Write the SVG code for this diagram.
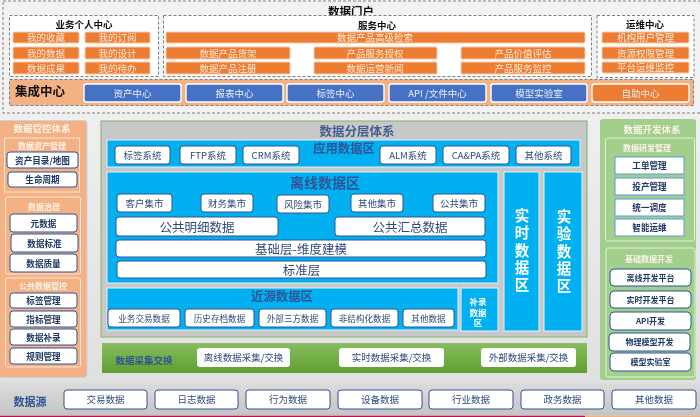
<svg xmlns="http://www.w3.org/2000/svg" width="700" height="417" viewBox="0 0 700 417">
<style>
text{font-family:"Noto Sans CJK SC","Liberation Sans",sans-serif;text-anchor:middle;dominant-baseline:central;transform:translateY(-.5px)}
.dash{fill:#fff;stroke:#7f7f7f;stroke-width:1;stroke-dasharray:3 2}
.or{fill:#ed7d31;stroke:#f8cbad;stroke-width:1}
.ort{fill:#fde9d9;font-size:9.5px}
.bl{fill:#4472c4;stroke:#fff;stroke-width:1.4}
.wt{fill:#e8eefa;font-size:9.5px}
.h{fill:#111;font-weight:700;font-size:9.5px}
.pt{fill:#fdf3ea;font-weight:700;font-size:9.5px}
.st{fill:#fdf3ea;font-weight:700;font-size:8px}
.sub{fill:none;stroke:#fbe5d6;stroke-width:1}
.subg{fill:none;stroke:#e2f0d9;stroke-width:1}
.nb{fill:#fff;stroke:#2f5597;stroke-width:1}
.nt{fill:#1f3864;font-weight:700;font-size:8.6px}
.lb{fill:#fff;stroke:#5b9bd5;stroke-width:1}
.zone{fill:#00b0f0;stroke:#dff3fb;stroke-width:1}
.zt{fill:#2f5597;font-weight:700;font-size:9.5px}
.bt{fill:#2f4a7c;font-size:9.5px}
.vt{fill:#fff;font-weight:700;font-size:14.500px;writing-mode:vertical-rl;letter-spacing:2.750px}
.vs{fill:#fff;font-weight:700;font-size:8.500px}
</style>
<defs>
<linearGradient id="g" x1="0" y1="0" x2="0" y2="1"><stop offset="0" stop-color="#88bd60"/><stop offset="1" stop-color="#5e9f30"/></linearGradient>
<linearGradient id="gb" x1="0" y1="0" x2="0" y2="1"><stop offset="0" stop-color="#dcdcdc"/><stop offset="1" stop-color="#c4c4c4"/></linearGradient>
<linearGradient id="bg" x1="0" y1="0" x2="0" y2="1"><stop offset="0" stop-color="#f6f6f6"/><stop offset="1" stop-color="#dedede"/></linearGradient>
<filter id="soft" x="0" y="0" width="1" height="1"><feGaussianBlur stdDeviation="0.3"/></filter>
</defs>
<g filter="url(#soft)">
<rect width="700" height="417" fill="url(#bg)"/>
<rect x="3" y="1" width="710" height="112" fill="#f2f2f2" stroke="#7f7f7f" stroke-dasharray="3 2"/>
<rect x="0" y="415.500" width="585" height="1.500" fill="#c00f50"/>
<rect x="585" y="415.500" width="115" height="1.500" fill="#f4b183"/>
<text x="351" y="11" class="h" style="font-size:11.500px">数据门户</text>

<g id="personal-center">
<rect class="dash" x="9.500" y="15.500" width="149" height="61"/>
<text x="84" y="24.500" class="h">业务个人中心</text>
<rect class="or" x="13" y="32" width="66" height="11" rx="1.500"/><text x="46" y="37.500" class="ort">我的收藏</text>
<rect class="or" x="85" y="32" width="65" height="11" rx="1.500"/><text x="117.500" y="37.500" class="ort">我的订阅</text>
<rect class="or" x="13" y="47" width="66" height="12" rx="1.500"/><text x="46" y="53" class="ort">我的数据</text>
<rect class="or" x="85" y="47" width="65" height="12" rx="1.500"/><text x="117.500" y="53" class="ort">我的设计</text>
<rect class="or" x="13" y="62" width="66" height="12" rx="1.500"/><text x="46" y="68" class="ort">数据成果</text>
<rect class="or" x="85" y="62" width="65" height="12" rx="1.500"/><text x="117.500" y="68" class="ort">我的待办</text>
</g>

<g id="service-center">
<rect class="dash" x="163.500" y="15.500" width="428" height="61"/>
<text x="377" y="25" class="h">服务中心</text>
<rect class="or" x="166" y="32" width="419" height="11" rx="1.500"/><text x="375" y="37.500" class="ort">数据产品高级检索</text>
<rect class="or" x="166" y="47" width="124" height="12" rx="1.500"/><text x="228" y="53" class="ort">数据产品货架</text>
<rect class="or" x="314" y="47" width="123" height="12" rx="1.500"/><text x="375" y="53" class="ort">产品服务授权</text>
<rect class="or" x="461" y="47" width="124" height="12" rx="1.500"/><text x="523" y="53" class="ort">产品价值评估</text>
<rect class="or" x="166" y="62" width="124" height="12" rx="1.500"/><text x="228" y="68" class="ort">数据产品注册</text>
<rect class="or" x="314" y="62" width="123" height="12" rx="1.500"/><text x="375" y="68" class="ort">数据运营新闻</text>
<rect class="or" x="461" y="62" width="124" height="12" rx="1.500"/><text x="523" y="68" class="ort">产品服务监控</text>
</g>

<g id="ops-center">
<rect class="dash" x="597" y="15.500" width="97" height="62"/>
<text x="645" y="24.500" class="h">运维中心</text>
<rect class="or" x="602" y="32" width="87" height="11" rx="1.500"/><text x="645.500" y="37.500" class="ort">机构用户管理</text>
<rect class="or" x="602" y="47" width="87" height="12" rx="1.500"/><text x="645.500" y="53" class="ort">资源权限管理</text>
<rect class="or" x="602" y="62" width="87" height="11" rx="1.500"/><text x="645.500" y="67.500" class="ort">平台运维监控</text>
</g>

<g id="integration-center">
<rect x="9.500" y="79.500" width="684" height="26" fill="#f4b183" stroke="#7f7f7f" stroke-dasharray="3 2"/>
<text x="40" y="91" class="h" style="font-size:12.500px">集成中心</text>
<rect class="bl" x="84" y="84" width="97" height="18" rx="2.500"/><text x="132.500" y="93" class="wt">资产中心</text>
<rect class="bl" x="186" y="84" width="97" height="18" rx="2.500"/><text x="234.500" y="93" class="wt">报表中心</text>
<rect class="bl" x="287" y="84" width="97" height="18" rx="2.500"/><text x="335.500" y="93" class="wt">标签中心</text>
<rect class="bl" x="389" y="84" width="97" height="18" rx="2.500"/><text x="437.500" y="93" class="wt">API /文件中心</text>
<rect class="bl" x="491" y="84" width="96" height="18" rx="2.500"/><text x="539" y="93" class="wt">模型实验室</text>
<rect x="592" y="84" width="97" height="18" rx="2.500" fill="#ed7d31" stroke="#fff" stroke-width="1.400"/><text x="640.500" y="93" class="wt">自助中心</text>
</g>

<g id="governance">
<rect x="-1" y="120.500" width="88" height="257" rx="3" fill="#f4b183" stroke="#c5d3e2"/>
<text x="42" y="128" class="pt">数据管控体系</text>
<rect class="sub" x="4.500" y="138" width="75" height="54"/>
<text x="42" y="146" class="st">数据资产管理</text>
<rect class="nb" x="7" y="152" width="71" height="16" rx="3"/><text x="42.500" y="160" class="nt">资产目录/地图</text>
<rect class="nb" x="8" y="172" width="69" height="15" rx="3"/><text x="42.500" y="179.500" class="nt">生命周期</text>
<rect class="sub" x="5.500" y="197" width="75" height="77" rx="2"/>
<text x="44" y="207" class="st">数据治理</text>
<rect class="nb" x="10" y="214" width="67" height="18" rx="3"/><text x="43.500" y="223" class="nt">元数据</text>
<rect class="nb" x="11" y="234" width="67" height="18" rx="3"/><text x="44.500" y="243" class="nt">数据标准</text>
<rect class="nb" x="10" y="254" width="67" height="18" rx="3"/><text x="43.500" y="263" class="nt">数据质量</text>
<rect class="sub" x="5.500" y="278" width="75" height="89" rx="2"/>
<text x="43" y="286" class="st">公共数据管控</text>
<rect class="nb" x="10" y="293" width="67" height="15" rx="3"/><text x="43.500" y="300.500" class="nt">标签管理</text>
<rect class="nb" x="10" y="311" width="67" height="16" rx="3"/><text x="43.500" y="319" class="nt">指标管理</text>
<rect class="nb" x="10" y="329" width="67" height="16" rx="3"/><text x="43.500" y="337" class="nt">数据补录</text>
<rect class="nb" x="10" y="348" width="67" height="16" rx="3"/><text x="43.500" y="356" class="nt">规则管理</text>
</g>

<g id="development">
<rect x="600" y="119" width="96" height="261" rx="3" fill="#a3cf8c"/>
<text x="652" y="129" class="pt">数据开发体系</text>
<rect class="subg" x="605.500" y="138" width="89" height="103" rx="2"/>
<text x="647" y="148" class="st">数据研发管理</text>
<rect class="lb" x="615" y="157" width="69" height="17"/><text x="649.500" y="165.500" class="nt">工单管理</text>
<rect class="lb" x="615" y="178" width="69" height="17"/><text x="649.500" y="186.500" class="nt">投产管理</text>
<rect class="lb" x="615" y="199" width="69" height="17"/><text x="649.500" y="207.500" class="nt">统一调度</text>
<rect class="lb" x="615" y="219" width="69" height="17"/><text x="649.500" y="227.500" class="nt">智能运维</text>
<rect class="subg" x="606" y="248" width="89" height="129" rx="2"/>
<text x="649" y="259" class="st">基础数据开发</text>
<rect class="nb" x="610" y="269" width="81" height="17" rx="4"/><text x="650.500" y="277.500" class="nt" style="font-size:8px">离线开发平台</text>
<rect class="nb" x="610" y="291" width="81" height="17" rx="4"/><text x="650.500" y="299.500" class="nt" style="font-size:8px">实时开发平台</text>
<rect class="nb" x="610" y="312" width="81" height="18" rx="4"/><text x="650.500" y="321" class="nt" style="font-size:8px">API开发</text>
<rect class="nb" x="609" y="333" width="81" height="18" rx="4"/><text x="649.500" y="342" class="nt" style="font-size:8px">物理模型开发</text>
<rect class="nb" x="610" y="353" width="81" height="18" rx="4"/><text x="650.500" y="362" class="nt" style="font-size:8px">模型实验室</text>
</g>

<g id="layers">
<rect x="101" y="121" width="486" height="216" fill="#c8c8c8" stroke="#82b366" stroke-width="1"/>
<text x="357" y="131" class="zt" style="font-size:12.500px;fill:#44608f">数据分层体系</text>
</g>

<g id="app-zone">
<rect class="zone" x="107" y="140" width="473" height="27"/>
<text x="344" y="148" class="zt" style="font-size:12.400px">应用数据区</text>
<rect class="nb" x="115" y="146" width="55" height="18" rx="3"/><text x="142.500" y="155" class="bt">标签系统</text>
<rect class="nb" x="180" y="146" width="56" height="18" rx="3"/><text x="208" y="155" class="bt">FTP系统</text>
<rect class="nb" x="243" y="146" width="56" height="18" rx="3"/><text x="271" y="155" class="bt">CRM系统</text>
<rect class="nb" x="380" y="146" width="56" height="18" rx="3"/><text x="408" y="155" class="bt">ALM系统</text>
<rect class="nb" x="443" y="146" width="66" height="18" rx="3"/><text x="476" y="155" class="bt">CA&amp;PA系统</text>
<rect class="nb" x="516" y="146" width="55" height="18" rx="3"/><text x="543.500" y="155" class="bt">其他系统</text>
</g>

<g id="offline-zone">
<rect class="zone" x="107" y="172" width="391" height="111"/>
<text x="325" y="182" class="zt" style="font-size:14px">离线数据区</text>
<rect class="nb" x="117" y="194" width="55" height="18" rx="3"/><text x="144.500" y="203" class="bt">客户集市</text>
<rect class="nb" x="201" y="194" width="52" height="18" rx="3"/><text x="227" y="203" class="bt">财务集市</text>
<rect class="nb" x="277" y="195" width="52" height="18" rx="3"/><text x="303" y="204" class="bt">风险集市</text>
<rect class="nb" x="351" y="194" width="52" height="18" rx="3"/><text x="377" y="203" class="bt">其他集市</text>
<rect class="nb" x="433" y="194" width="52" height="18" rx="3"/><text x="459" y="203" class="bt">公共集市</text>
<rect class="nb" x="116" y="217" width="162" height="19" rx="3"/><text x="197" y="226.500" class="bt" style="font-size:12.500px">公共明细数据</text>
<rect class="nb" x="335" y="217" width="150" height="19" rx="3"/><text x="410" y="226.500" class="bt" style="font-size:12.500px">公共汇总数据</text>
<rect class="nb" x="116" y="240" width="370" height="17" rx="3"/><text x="301" y="248.500" class="bt" style="font-size:12.500px">基础层-维度建模</text>
<rect class="nb" x="117" y="261" width="369" height="17" rx="3"/><text x="301.500" y="269.500" class="bt" style="font-size:12.500px">标准层</text>
</g>

<g id="realtime-zone">
<rect class="zone" x="504" y="172" width="35" height="159"/>
<text class="vt" x="522" y="252">实时数据区</text>
</g>

<g id="experiment-zone">
<rect class="zone" x="544" y="172" width="38" height="159"/>
<text class="vt" x="564" y="253">实验数据区</text>
</g>

<g id="near-source-zone">
<rect class="zone" x="107" y="288" width="351" height="42"/>
<text x="282" y="296" class="zt" style="font-size:12.400px">近源数据区</text>
<rect class="nb" x="108" y="309" width="72" height="18" rx="3"/><text x="144" y="318" class="bt" style="font-size:8.600px">业务交易数据</text>
<rect class="nb" x="185" y="309" width="69" height="18" rx="3"/><text x="219.500" y="318" class="bt" style="font-size:8.600px">历史存档数据</text>
<rect class="nb" x="259" y="309" width="67" height="18" rx="3"/><text x="292.500" y="318" class="bt" style="font-size:8.600px">外部三方数据</text>
<rect class="nb" x="331" y="309" width="67" height="18" rx="3"/><text x="364.500" y="318" class="bt" style="font-size:8.600px">非结构化数据</text>
<rect class="nb" x="403" y="309" width="51" height="18" rx="3"/><text x="428.500" y="318" class="bt" style="font-size:8.600px">其他数据</text>
</g>

<g id="supplement-zone">
<rect class="zone" x="461" y="288" width="37" height="43"/>
<text class="vs"><tspan x="478" y="301.500">补录</tspan><tspan x="478" y="312">数据</tspan><tspan x="478" y="322.500">区</tspan></text>
</g>

<g id="collection">
<rect x="102" y="343" width="485" height="30" fill="url(#g)"/>
<text x="144" y="360" class="zt">数据采集交换</text>
<rect x="197" y="348" width="93" height="19" rx="3" fill="#fff"/><text x="243.500" y="357.500" class="bt">离线数据采集/交换</text>
<rect x="339" y="348" width="105" height="19" rx="3" fill="#fff"/><text x="391.500" y="357.500" class="bt">实时数据采集/交换</text>
<rect x="481" y="348" width="95" height="19" rx="3" fill="#fff"/><text x="528.500" y="357.500" class="bt">外部数据采集/交换</text>
</g>

<g id="data-source">
<rect x="0" y="383" width="700" height="32.500" fill="url(#gb)"/>
<text x="30" y="401" class="zt" style="font-size:11px">数据源</text>
<rect class="nb" x="64" y="390" width="83" height="19" rx="3"/><text x="105.500" y="399.500" class="bt">交易数据</text>
<rect class="nb" x="155" y="390" width="83" height="19" rx="3"/><text x="196.500" y="399.500" class="bt">日志数据</text>
<rect class="nb" x="246" y="390" width="84" height="19" rx="3"/><text x="288" y="399.500" class="bt">行为数据</text>
<rect class="nb" x="338" y="390" width="84" height="19" rx="3"/><text x="380" y="399.500" class="bt">设备数据</text>
<rect class="nb" x="429" y="390" width="84" height="19" rx="3"/><text x="471" y="399.500" class="bt">行业数据</text>
<rect class="nb" x="521" y="390" width="83" height="19" rx="3"/><text x="562.500" y="399.500" class="bt">政务数据</text>
<rect class="nb" x="612" y="390" width="84" height="19" rx="3"/><text x="654" y="399.500" class="bt">其他数据</text>
</g>
</g>
</svg>
